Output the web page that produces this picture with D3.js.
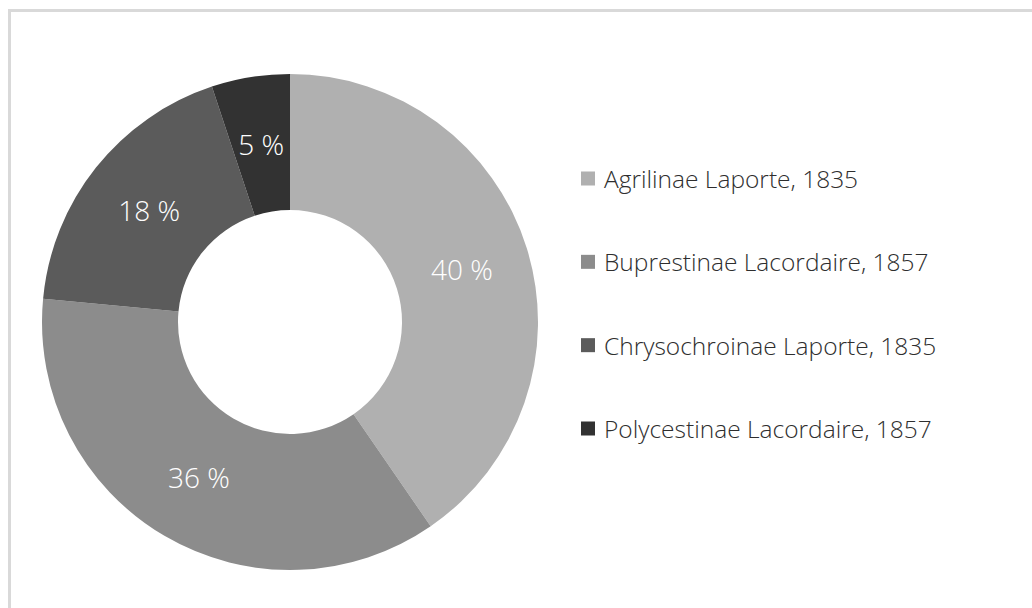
<!DOCTYPE html>
<html>
<head>
<meta charset="utf-8">
<script src="https://cdn.jsdelivr.net/npm/d3@7"></script>
<style>
  html, body { margin: 0; padding: 0; background: #fff; }
  svg { display: block; }
</style>
</head>
<body>
<div id="chart"></div>
<script>
// subfamilies and their share of species (%)
const subfamilies = ["Agrilinae Laporte, 1835", "Buprestinae Lacordaire, 1857",
                     "Chrysochroinae Laporte, 1835", "Polycestinae Lacordaire, 1857"];
const shares = [40.4, 36.1, 18.4, 5.1];
const shareLabels = ["40 %", "36 %", "18 %", "5 %"];
const greys = ["#b0b0b0", "#8c8c8c", "#5b5b5b", "#323232"];

const width = 1032, height = 608;
const cx = 290, cy = 322;
const outerR = 248, innerR = 112;

const svg = d3.select('#chart')
    .append('svg')
    .attr('width', width)
    .attr('height', height);

// chart area frame (right/bottom edges fall outside the picture)
svg.append('path')
    .attr('d', 'M9.5,' + (height + 5) + 'V10.5H' + (width + 5))
    .attr('fill', 'none')
    .attr('stroke', '#d9d9d9')
    .attr('stroke-width', 3);

const color = d3.scaleOrdinal().domain(subfamilies).range(greys);

const pie = d3.pie().sort(null).value(d => d.v);
const arc = d3.arc().innerRadius(innerR).outerRadius(outerR);

const data = subfamilies.map((name, i) => ({name: name, v: shares[i], label: shareLabels[i]}));
const arcs = pie(data);

const g = svg.append('g')
    .attr('transform', 'translate(' + cx + ',' + cy + ')');

g.selectAll('path.slice')
    .data(arcs)
    .enter()
    .append('path')
    .attr('class', 'slice')
    .attr('d', arc)
    .attr('fill', d => color(d.data.name));

g.selectAll('text.pct')
    .data(arcs)
    .enter()
    .append('text')
    .attr('class', 'pct')
    .attr('x', d => arc.centroid(d)[0])
    .attr('y', d => arc.centroid(d)[1])
    .attr('text-anchor', 'middle')
    .attr('dominant-baseline', 'central')
    .style('font-family', '"Open Sans", sans-serif')
    .style('font-weight', 300)
    .style('font-size', '28px')
    .attr('fill', '#fff')
    .text(d => d.data.label);

// legend
const legendY = d3.scalePoint().domain(subfamilies).range([178.5, 428.5]);

const legend = svg.append('g')
    .selectAll('g')
    .data(subfamilies)
    .enter()
    .append('g')
    .attr('transform', d => 'translate(581,' + legendY(d) + ')');

legend.append('rect')
    .attr('x', 0)
    .attr('y', -7)
    .attr('width', 14)
    .attr('height', 14)
    .attr('fill', d => color(d));

legend.append('text')
    .attr('x', 23)
    .attr('y', 0)
    .attr('dominant-baseline', 'central')
    .style('font-family', '"Open Sans", sans-serif')
    .style('font-weight', 300)
    .style('font-size', '24.5px')
    .attr('fill', '#2e2e2e')
    .text(d => d);
</script>
</body>
</html>
